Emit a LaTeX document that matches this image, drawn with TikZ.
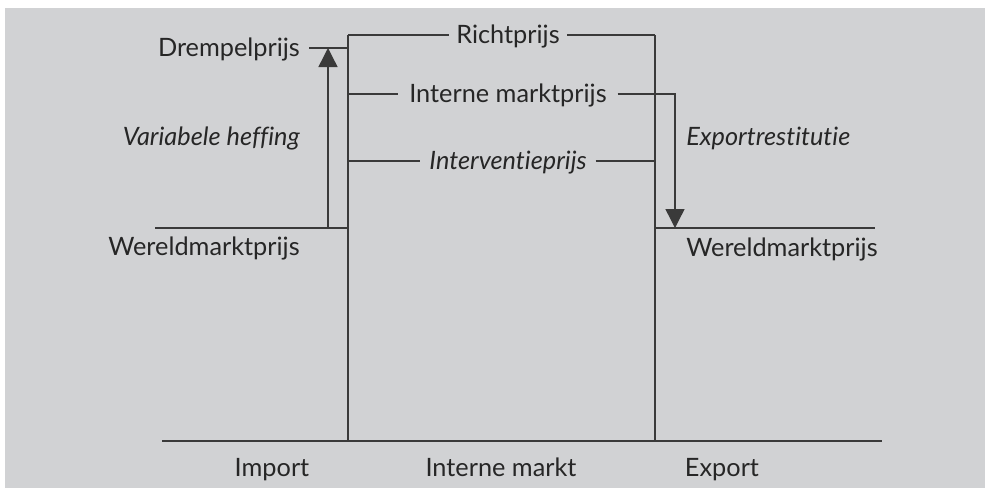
\documentclass[tikz,border=0pt]{standalone}
\usepackage{fontspec}
\setmainfont{Lato}[Ligatures=NoCommon]
\usepackage{tikz}
\usetikzlibrary{arrows.meta}
\definecolor{panel}{HTML}{D1D2D4}
\definecolor{ink}{HTML}{3A3A3A}
\tikzset{
  lijn/.style={draw=ink, line width=0.6pt},
  prijslijn/.style={draw=ink, line width=0.8pt},
  wereld/.style={draw=ink, line width=1.1pt},
  pijl/.style={draw=ink, line width=0.8pt, -{Triangle[width=0.38cm,length=0.38cm]}},
  prijs/.style={text=black!85, font=\fontsize{14.4}{17}\selectfont, text height=9.8pt, text depth=0pt, inner sep=0pt, inner xsep=4pt},
  label/.style={prijs, inner xsep=0pt},
}
\begin{document}
\begin{tikzpicture}[x=0.02cm,y=-0.02cm]
          \useasboundingbox (0,0) rectangle (985,488);
          \fill[panel] (5,8) rectangle (985,488);
          % hoeken van de interne markt
          \coordinate (lt) at (348,35);
          \coordinate (lb) at (348,441);
          \coordinate (rt) at (655,35);
          \coordinate (rb) at (655,441);
          \coordinate (wl) at (155,228);   % wereldmarkt links
          \coordinate (wr) at (875,228);   % wereldmarkt rechts
          \coordinate (hf) at (328,228);   % voet heffing
          \coordinate (er) at (675,228);   % punt restitutie
          \coordinate (ab) at (162,441);
          \coordinate (ae) at (882,441);
          \node[prijs] (richt) at (508,35) {Richtprijs};
          \node[prijs, inner xsep=6pt] (intern) at (508,94) {Interne marktprijs};
          \node[prijs, inner xsep=5pt] (interv) at (508,161) {\itshape Interventieprijs};
          \node[prijs, inner xsep=5pt, anchor=east] (drempel) at (309,48) {Drempelprijs};
          \node[label, anchor=east] (heffing) at (300,137) {\itshape Variabele heffing};
          \node[label, anchor=east] (wereldl) at (300,247) {Wereldmarktprijs};
          \node[label, anchor=west] (restit) at (686,137) {\itshape Exportrestitutie};
          \node[label, anchor=west] (wereldr) at (686,248) {Wereldmarktprijs};
          \node[label] (import) at (272,468) {Import};
          \node[label] (markt) at (501,468) {Interne markt};
          \node[label] (export) at (722,468) {Export};
          \draw[lijn] (lb) -- (lt);
          \draw[lijn] (rt) -- (rb);
          \draw[prijslijn] (lt) -- (richt.west) (richt.east) -- (rt);
          \draw[prijslijn] (intern.west -| lt) -- (intern.west);
          \draw[prijslijn] (interv.west -| lt) -- (interv.west) (interv.east) -- (interv.east -| rt);
          \draw[prijslijn] (drempel.east) -- (drempel.east -| lt);
          \draw[wereld] (wl) -- (wl -| lt);
          \draw[wereld] (wr -| rt) -- (wr);
          \draw[wereld] (ab) -- (ae);
          \draw[pijl] (hf) -- (hf |- drempel.east);
          \draw[pijl] (intern.east) -| (er);
\end{tikzpicture}
\end{document}
